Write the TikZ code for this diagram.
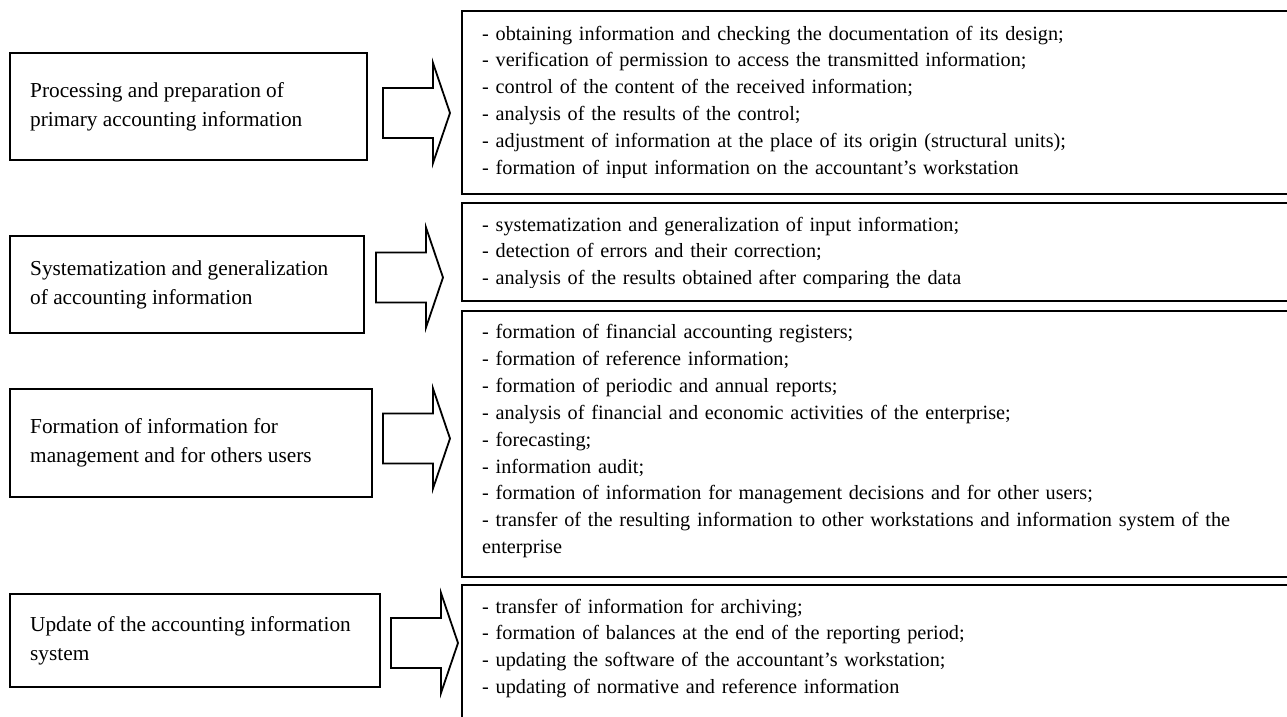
\documentclass[tikz,border=0pt]{standalone}
\usepackage{fontspec}
\setmainfont{Liberation Serif}
\usetikzlibrary{calc}
\tikzset{
  boxline/.style={draw=black, line width=2pt},
  lbox/.style={boxline, anchor=north west, inner sep=0pt},
  rbox/.style={boxline, anchor=north west, inner sep=0pt, minimum width=860pt},
  ltext/.style={anchor=west, align=left, inner sep=0pt, font=\fontsize{21.3}{29}\selectfont},
  rtext/.style={anchor=base west, align=left, inner sep=0pt, text width=820pt, font=\fontsize{20.25}{26.9}\selectfont},
  blockarrow/.pic={\draw[boxline, line width=1.8pt, line join=miter] (0,-25) -- (50,-25) -- (50,-50) -- (67,0) -- (50,50) -- (50,25) -- (0,25) -- cycle;}
}
\begin{document}
\begin{tikzpicture}[x=1pt,y=-1pt]
\path[use as bounding box, clip] (0,0) rectangle (1287,716);
\fill[white] (0,0) rectangle (1287,716);

% left boxes
\node[lbox, minimum width=357pt, minimum height=107pt] (l1) at (9,52) {};
\node[lbox, minimum width=354pt, minimum height=97pt] (l2) at (9,235) {};
\node[lbox, minimum width=362pt, minimum height=108pt] (l3) at (9,388) {};
\node[lbox, minimum width=370pt, minimum height=93pt] (l4) at (9,593) {};

\node[ltext] (lt1) at ($(l1.west)+(21,0)$) {Processing and preparation of\\primary accounting information};
\node[ltext] (lt2) at ($(l2.west)+(21,0)$) {Systematization and generalization\\of accounting information};
\node[ltext] (lt3) at ($(l3.west)+(21,0)$) {Formation of information for\\management and for others users};
\node[ltext] (lt4) at ($(l4.west)+(21,0)$) {Update of the accounting information\\system};

% arrows
\pic (a1) at (383,113) {blockarrow};
\pic (a2) at (376,277.5) {blockarrow};
\pic (a3) at (383,438.5) {blockarrow};
\pic (a4) at (391,643) {blockarrow};

% right boxes
\node[rbox, minimum height=183pt] (r1) at (461,10) {};
\node[rbox, minimum height=98pt] (r2) at (461,202) {};
\node[rbox, minimum height=266pt] (r3) at (461,310) {};
\node[rbox, minimum height=160pt] (r4) at (461,584) {};

\begin{scope}
\clip (461,10) rectangle (1300,177);
\node[rtext] (rt1) at ($(r1.north west)+(21,30)$) {- obtaining information and checking the documentation of its design;\\
- verification of permission to access the transmitted information;\\
- control of the content of the received information;\\
- analysis of the results of the control;\\
- adjustment of information at the place of its origin (structural units);\\
- formation of input information on the accountant’s workstation};
\end{scope}

\begin{scope}
\clip (461,202) rectangle (1300,287);
\node[rtext] (rt2) at ($(r2.north west)+(21,29)$) {- systematization and generalization of input information;\\
- detection of errors and their correction;\\
- analysis of the results obtained after comparing the data};
\end{scope}

\node[rtext] (rt3) at ($(r3.north west)+(21,28.5)$) {- formation of financial accounting registers;\\
- formation of reference information;\\
- formation of periodic and annual reports;\\
- analysis of financial and economic activities of the enterprise;\\
- forecasting;\\
- information audit;\\
- formation of information for management decisions and for other users;\\
- transfer of the resulting information to other workstations and information system of the\\
enterprise};

\node[rtext] (rt4) at ($(r4.north west)+(21,29)$) {- transfer of information for archiving;\\
- formation of balances at the end of the reporting period;\\
- updating the software of the accountant’s workstation;\\
- updating of normative and reference information};
\end{tikzpicture}
\end{document}
